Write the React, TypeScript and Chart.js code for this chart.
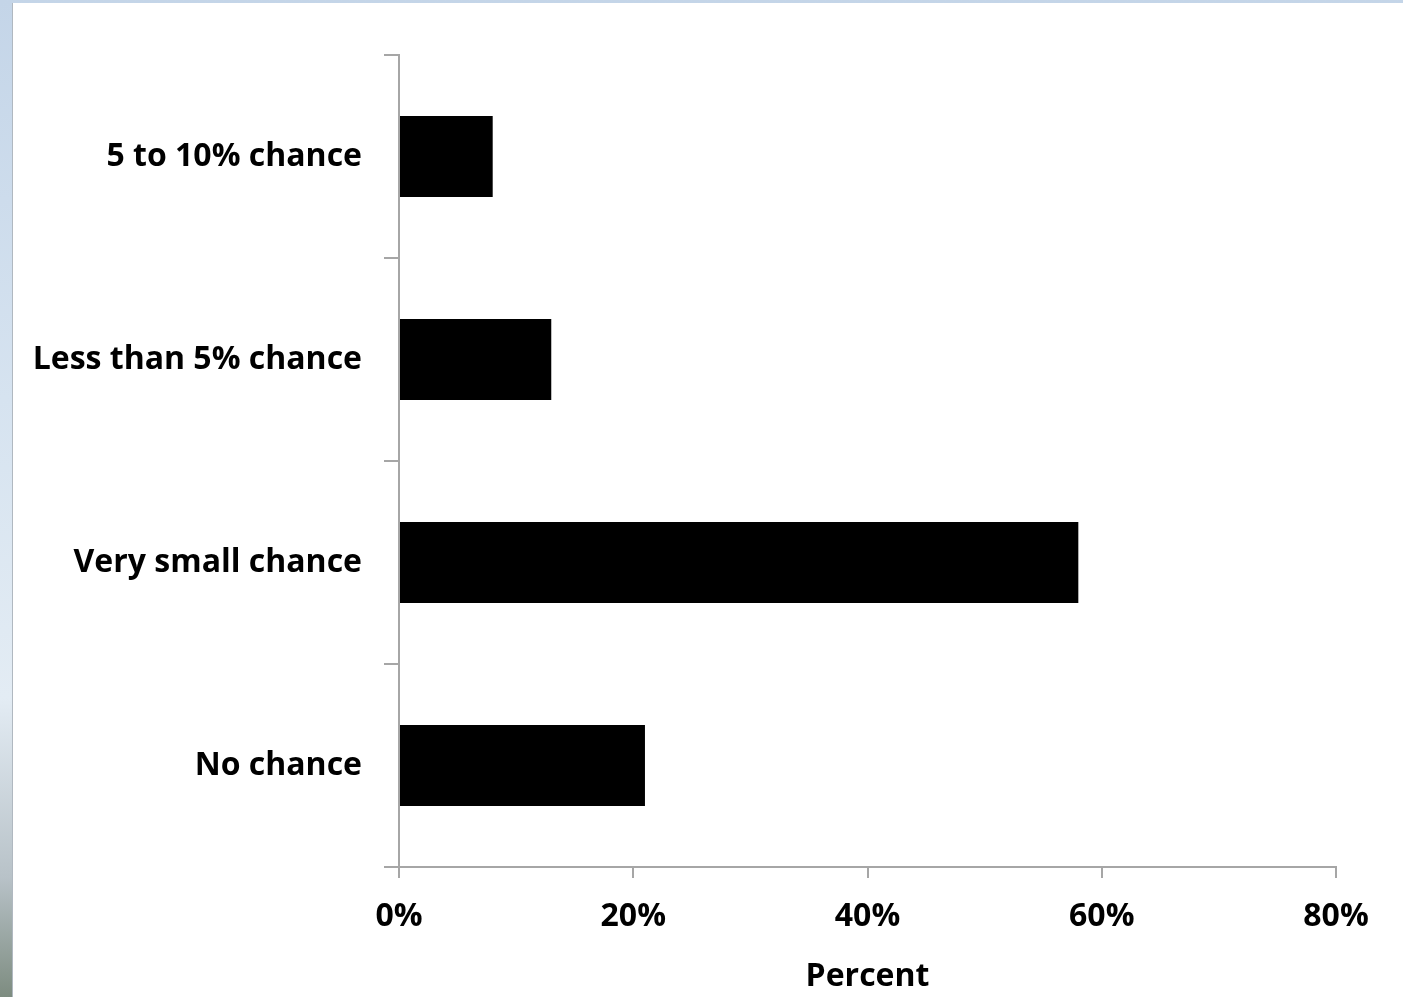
import React, { useEffect, useRef } from "react";
import { Chart, registerables } from "chart.js";

Chart.register(...registerables);

const categories = ["5 to 10% chance", "Less than 5% chance", "Very small chance", "No chance"];
const percentValues = [8, 13, 58, 21];
const xTickValues = [0, 20, 40, 60, 80];
const xAxisTitle = "Percent";

const FONT = "'Open Sans', sans-serif";
const AXIS_GRAY = "#a6a6a6";

export default function App() {
  const canvasRef = useRef<HTMLCanvasElement | null>(null);

  useEffect(() => {
    const ctx = canvasRef.current;
    if (!ctx) return;
    const chart = new Chart(ctx, {
      type: "bar",
      data: {
        labels: categories,
        datasets: [
          {
            data: percentValues,
            backgroundColor: "#000000",
            borderWidth: 0,
            barPercentage: 0.4,
            categoryPercentage: 1,
          },
        ],
      },
      options: {
        indexAxis: "y",
        animation: false,
        responsive: false,
        maintainAspectRatio: false,
        layout: { padding: { top: 55, right: 67, bottom: 0, left: 0 } },
        plugins: {
          legend: { display: false },
          tooltip: { enabled: false },
        },
        scales: {
          x: {
            min: 0,
            max: 80,
            afterBuildTicks: (scale: any) => {
              scale.ticks = xTickValues.map((v) => ({ value: v }));
            },
            afterFit: (scale: any) => {
              scale.height = 130;
            },
            ticks: {
              color: "#000",
              font: { family: FONT, size: 32, weight: "bold" },
              padding: 20,
              callback: (v: any) => `${v}%`,
            },
            grid: {
              drawOnChartArea: false,
              drawTicks: true,
              tickLength: 11,
              color: AXIS_GRAY,
              lineWidth: 2,
            },
            border: { display: true, color: AXIS_GRAY, width: 2 },
            title: {
              display: true,
              text: xAxisTitle,
              color: "#000",
              font: { family: FONT, size: 32, weight: "bold" },
              padding: { top: 12, bottom: 1 },
            },
          },
          y: {
            afterFit: (scale: any) => {
              scale.width = 399;
            },
            ticks: {
              color: "#000",
              font: { family: FONT, size: 32, weight: "bold" },
              padding: 22,
            },
            grid: {
              drawOnChartArea: false,
              drawTicks: true,
              tickLength: 15,
              color: AXIS_GRAY,
              lineWidth: 2,
              offset: true,
            },
            border: { display: true, color: AXIS_GRAY, width: 2 },
          },
        },
      },
    } as any);
    return () => chart.destroy();
  }, []);

  return (
    <div
      style={{
        position: "fixed",
        left: 0,
        top: 0,
        width: 1403,
        height: 997,
        background:
          "linear-gradient(to bottom, #c4d5e8 0%, #d6e3f0 40%, #e3ecf4 70%, #b8c2c8 88%, #7d8c80 100%)",
        overflow: "hidden",
      }}
    >
      <div
        style={{
          position: "absolute",
          left: 12,
          top: 3,
          right: 0,
          bottom: 0,
          background: "#ffffff",
          borderLeft: "1px solid #b0b8c0",
        }}
      />
      <canvas
        ref={canvasRef}
        width={1403}
        height={997}
        style={{ position: "absolute", left: 0, top: 0, width: 1403, height: 997 }}
      />
    </div>
  );
}
